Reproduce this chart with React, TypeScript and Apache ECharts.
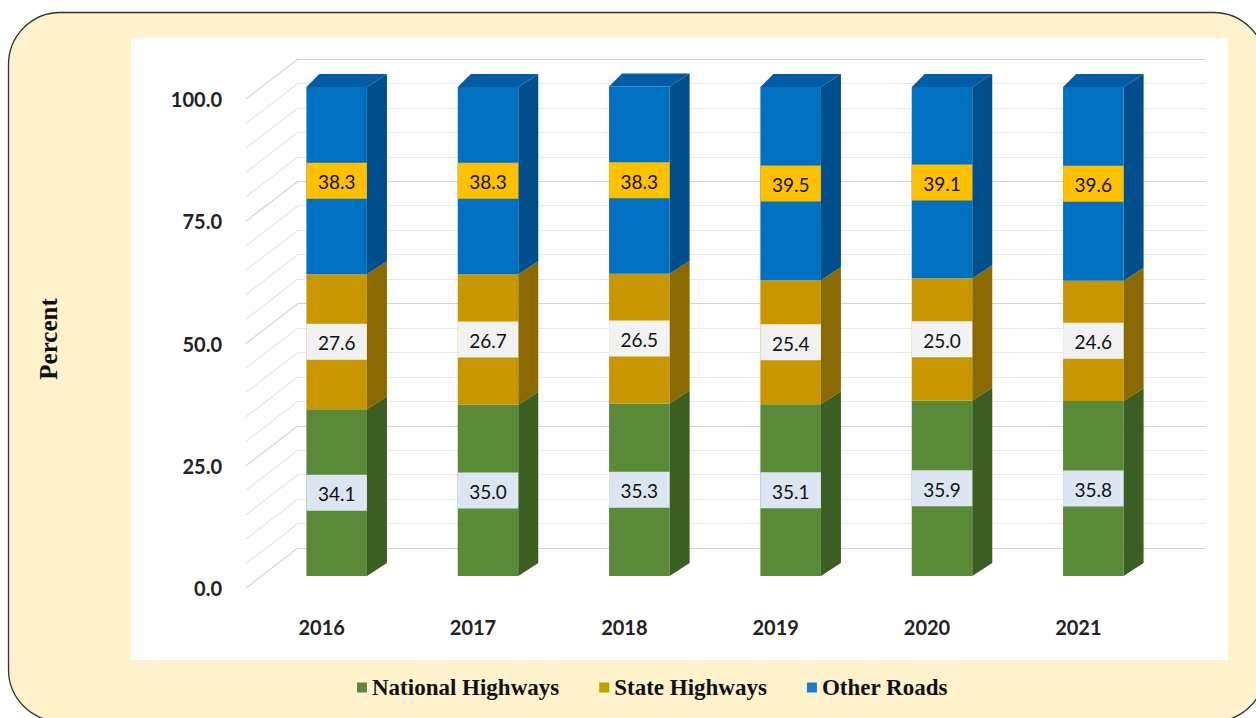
import React, { useEffect, useRef } from "react";
import * as echarts from "echarts";

const YEARS = ["2016", "2017", "2018", "2019", "2020", "2021"];
const NATIONAL = [34.1, 35.0, 35.3, 35.1, 35.9, 35.8];
const STATE = [27.6, 26.7, 26.5, 25.4, 25.0, 24.6];
const OTHER = [38.3, 38.3, 38.3, 39.5, 39.1, 39.6];
const WALL_TICKS = [0, 5, 10, 15, 20, 25, 30, 35, 40, 45, 50, 55, 60, 65, 70, 75, 80, 85, 90, 95, 100];

const ROADS = [
  { name: "National Highways", values: NATIONAL, front: "#5a8a38", side: "#3b5e22", top: "#4a7a2c", labelBg: "#dce6f2", legend: "#5b8a3a" },
  { name: "State Highways", values: STATE, front: "#c89600", side: "#8a6a00", top: "#a88000", labelBg: "#f2f2f2", legend: "#c0a000" },
  { name: "Other Roads", values: OTHER, front: "#0070c0", side: "#004f8c", top: "#005ca6", labelBg: "#ffc000", legend: "#1f78d0" },
];

export default function App() {
  const ref = useRef<HTMLDivElement>(null);
  useEffect(() => {
    document.body.style.margin = "0";
    const chart = echarts.init(ref.current!, null, { renderer: "svg" });

    const series: any[] = ROADS.map((road, k) => {
      const data = road.values.map((v, i) => {
        let base = 0;
        for (let j = 0; j < k; j++) base += ROADS[j].values[i];
        return [i, base, v];
      });
      const isTop = k === ROADS.length - 1;
      return {
        type: "custom",
        name: road.name,
        xAxisIndex: 0,
        yAxisIndex: 0,
        z: 5,
        itemStyle: { color: road.legend },
        data,
        renderItem: (params: any, api: any) => {
          const i = api.value(0);
          const base = api.value(1);
          const val = api.value(2);
          const p0 = api.coord([i, base]);
          const p1 = api.coord([i, base + val]);
          const band = api.size([1, 0])[0];
          const bw = band * 0.4;
          const offX = 15;
          const offY = -12;
          const xl = p0[0] - bw / 2 + offX;
          const xr = xl + bw;
          const yb = p0[1] + offY;
          const yt = p1[1] + offY;
          const dx = 20;
          const dy = 13;
          const children: any[] = [
            { type: "rect", shape: { x: xl, y: yt, width: bw, height: yb - yt }, style: { fill: road.front } },
            {
              type: "polygon",
              shape: { points: [[xr, yt], [xr + dx, yt - dy], [xr + dx, yb - dy], [xr, yb]] },
              style: { fill: road.side },
            },
          ];
          if (isTop) {
            children.push({
              type: "polygon",
              shape: { points: [[xl, yt], [xl + 13, yt - dy], [xr + dx, yt - dy], [xr, yt]] },
              style: { fill: road.top },
            });
          }
          const cy = (yt + yb) / 2;
          children.push({
            type: "rect",
            shape: { x: xl, y: cy - 18, width: bw, height: 36 },
            style: { fill: road.labelBg },
          });
          children.push({
            type: "text",
            x: xl + bw / 2,
            y: cy + 1,
            style: {
              text: val.toFixed(1),
              fill: "#111111",
              font: '19px Lato',
              align: "center",
              verticalAlign: "middle",
            },
          });
          return { type: "group", children };
        },
      };
    });

    series.push({
      type: "custom",
      name: "wall",
      xAxisIndex: 0,
      yAxisIndex: 0,
      z: 1,
      silent: true,
      data: WALL_TICKS.map((t) => [0, t]),
      renderItem: (params: any, api: any) => {
        const v = api.value(1);
        const p = api.coord([0, v]);
        const band = api.size([1, 0])[0];
        const x = p[0] - band / 2;
        const major = v % 25 === 0;
        return {
          type: "line",
          shape: { x1: x, y1: p[1], x2: x + 52, y2: p[1] - 40 },
          style: { stroke: major ? "#d4d4d4" : "#e6e6e6", lineWidth: 1.2 },
        };
      },
    });

    chart.setOption({
      animation: false,
      legend: {
        data: ROADS.map((r) => r.name),
        left: 352,
        top: 671,
        icon: "rect",
        itemWidth: 10,
        itemHeight: 10,
        itemGap: 40,
        textStyle: { fontFamily: "Liberation Serif", fontWeight: "bold", fontSize: 23, color: "#111111" },
      },
      graphic: [
        {
          type: "rect",
          z: -20,
          silent: true,
          shape: { x: 8.5, y: 12.5, width: 1257, height: 709, r: 52 },
          style: { fill: "#fff2cc", stroke: "#333", lineWidth: 1.3 },
        },
        {
          type: "rect",
          z: -19,
          silent: true,
          shape: { x: 131, y: 38, width: 1097, height: 622 },
          style: { fill: "#ffffff" },
        },
        {
          type: "text",
          z: 10,
          x: 48,
          y: 339,
          rotation: Math.PI / 2,
          style: {
            text: "Percent",
            font: 'bold 25px "Liberation Serif"',
            fill: "#111111",
            align: "center",
            verticalAlign: "middle",
          },
        },
      ],
      grid: [
        { left: 246, right: 102, top: 99, bottom: 130 },
        { left: 298, right: 50, top: 59, bottom: 170 },
      ],
      xAxis: [
        {
          type: "category",
          gridIndex: 0,
          data: YEARS,
          axisLine: { show: false },
          axisTick: { show: false },
          axisLabel: { margin: 29, fontFamily: "Lato", fontWeight: "bold", fontSize: 20, color: "#222222" },
        },
        { type: "category", gridIndex: 1, data: YEARS, show: false },
      ],
      yAxis: [
        {
          type: "value",
          gridIndex: 0,
          min: 0,
          max: 100,
          interval: 25,
          axisLine: { show: false },
          axisTick: { show: false },
          splitLine: { show: false },
          axisLabel: {
            margin: 24,
            formatter: (v: number) => v.toFixed(1),
            fontFamily: "Lato",
            fontWeight: "bold",
            fontSize: 20,
            color: "#222222",
          },
        },
        {
          type: "value",
          gridIndex: 1,
          min: 0,
          max: 100,
          interval: 5,
          axisLine: { show: false },
          axisTick: { show: false },
          axisLabel: { show: false },
          splitLine: {
            show: true,
            lineStyle: { color: ["#d4d4d4", "#e8e8e8", "#e8e8e8", "#e8e8e8", "#e8e8e8"], width: 1.2 },
          },
        },
      ],
      series,
    });
    return () => chart.dispose();
  }, []);
  return <div ref={ref} style={{ width: 1256, height: 718 }} />;
}
